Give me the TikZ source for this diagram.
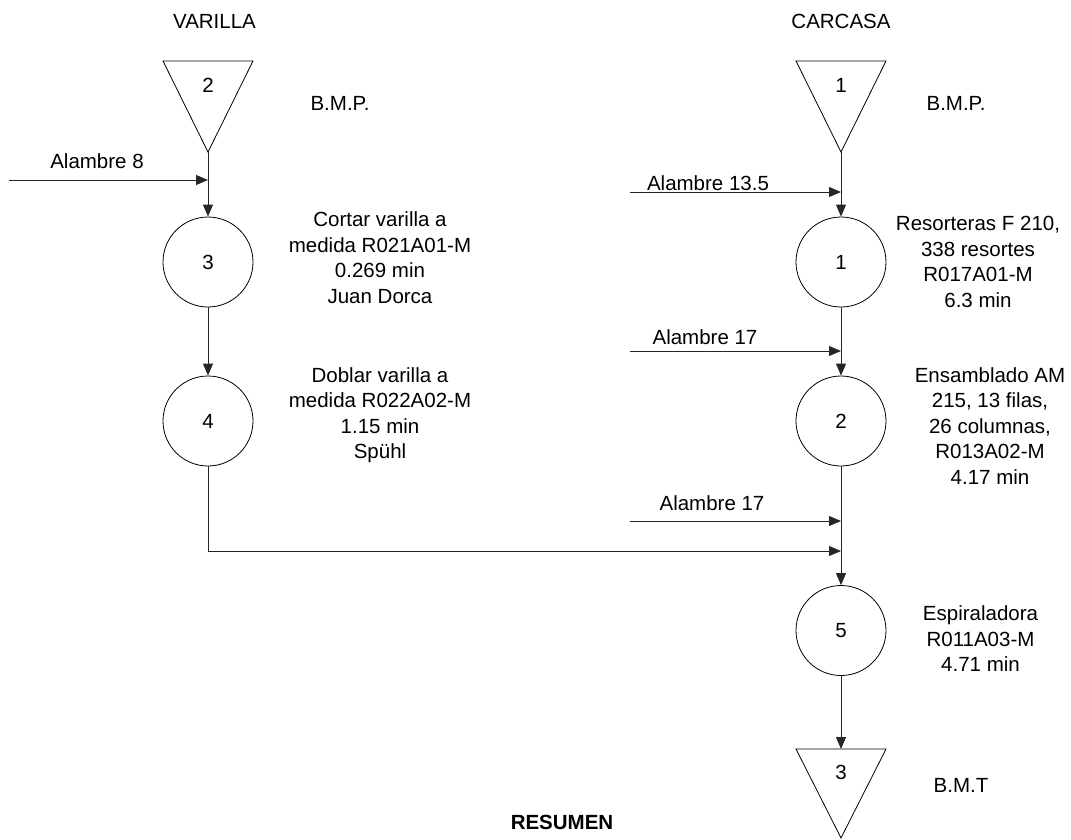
\documentclass[tikz,border=0pt]{standalone}
\usepackage{fontspec}
\setmainfont{Liberation Sans}
\usetikzlibrary{arrows.meta}
\begin{document}
\begin{tikzpicture}[x=1pt,y=-1pt,
  every node/.style={font=\fontsize{20.5}{25.5}\selectfont},
  flow/.style={draw=black!85,line width=0.9pt},
  arr/.style={flow,-{Triangle[length=12pt,width=10pt]}},
  opnode/.style={draw,line width=0.8pt,circle,minimum size=90pt,inner sep=0pt},
  store/.style={draw,line width=0.8pt,line join=miter},
  note/.style={align=center,inner sep=0pt}]
\useasboundingbox (0,0) rectangle (1071,839);

% column headers
\node (hv) at (214.5,21) {VARILLA};
\node (hc) at (841,21) {CARCASA};

% storage triangles
\draw[store] (163,61) -- (253,61) -- (208,152) -- cycle;
\coordinate (t2b) at (208,152);
\node (t2n) at (208,85) {2};
\node (t2l) at (340,103) {B.M.P.};

\draw[store] (796,61) -- (886,61) -- (841,152) -- cycle;
\coordinate (t1b) at (841,152);
\node (t1n) at (841,85) {1};
\node (t1l) at (956,103) {B.M.P.};

\draw[store] (796,749) -- (886,749) -- (841,838) -- cycle;
\coordinate (t3t) at (841,749);
\node (t3n) at (841,772) {3};
\node (t3l) at (961,785) {B.M.T};

% operations, left branch
\node[opnode] (c3) at (208,262) {3};
\node[note] (d3) at (380,257.5) {Cortar varilla a\\medida R021A01-M\\0.269 min\\Juan Dorca};
\node[opnode] (c4) at (208,421) {4};
\node[note] (d4) at (380,415) {Doblar varilla a\\medida R022A02-M\\1.15 min\\Spühl};

% operations, right branch
\node[opnode] (c1) at (841,262) {1};
\node[note] (d1) at (978,262) {Resorteras F 210,\\338 resortes\\R017A01-M\\6.3 min};
\node[opnode] (c2) at (841,421) {2};
\node[note] (d2) at (990,426) {Ensamblado AM\\215, 13 filas,\\26 columnas,\\R013A02-M\\4.17 min};
\node[opnode] (c5) at (841,630.5) {5};
\node[note] (d5) at (980.5,639) {Espiraladora\\R011A03-M\\4.71 min};

% main flow
\draw[arr] (t2b) -- (c3);
\draw[arr] (c3) -- (c4);
\draw[arr] (t1b) -- (c1);
\draw[arr] (c1) -- (c2);
\draw[arr] (c2) -- (c5);
\draw[arr] (c5) -- (t3t);

% wire inputs
\coordinate (a8s) at (9,180);   \coordinate (a8e) at (208,180);
\coordinate (a13s) at (630,192); \coordinate (a13e) at (841,192);
\coordinate (a17s) at (630,351); \coordinate (a17e) at (841,351);
\coordinate (b17s) at (630,521); \coordinate (b17e) at (841,521);
\draw[arr] (a8s) -- (a8e);
\draw[arr] (a13s) -- (a13e);
\draw[arr] (a17s) -- (a17e);
\draw[arr] (b17s) -- (b17e);
\node (l8) at (97,161) {Alambre 8};
\node (l13) at (708,183) {Alambre 13.5};
\node (l17a) at (705,337) {Alambre 17};
\node (l17b) at (712,503) {Alambre 17};

% rod joins the housing line
\coordinate (m4) at (208,551);
\coordinate (j4) at (841,551);
\draw[arr] (c4) -- (m4) -- (j4);

\node[font=\fontsize{20.5}{25.5}\selectfont\bfseries] (res) at (562,822) {RESUMEN};
\end{tikzpicture}
\end{document}
